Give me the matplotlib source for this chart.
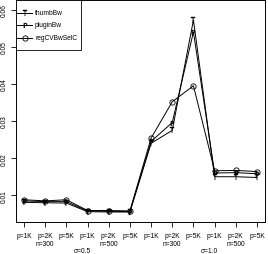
import numpy as np
import matplotlib
matplotlib.use("Agg")
import matplotlib.pyplot as plt
import matplotlib.transforms as mtransforms
from matplotlib.patches import Rectangle

plt.rcParams['font.family'] = ['Liberation Sans', 'DejaVu Sans']

# datos
x = np.arange(1, 13)
tick_labels = ["p=1K", "p=2K", "p=5K"] * 4
n_labels = ["n=300", "n=500", "n=300", "n=500"]
n_pos = [2, 5, 8, 11]
sigma_labels = ["σ=0.5", "σ=1.0"]
sigma_pos = [3.75, 9.75]

thumbBw = [0.0081, 0.0080, 0.0079, 0.0056, 0.0055, 0.0055,
           0.0240, 0.0275, 0.0572, 0.0150, 0.0150, 0.0148]
pluginBw = [0.0085, 0.0083, 0.0083, 0.0058, 0.0057, 0.0056,
            0.0245, 0.0296, 0.0540, 0.0160, 0.0161, 0.0158]
regCVBwSelC = [0.0088, 0.0085, 0.0088, 0.0059, 0.0059, 0.0058,
               0.0254, 0.0352, 0.0395, 0.0166, 0.0167, 0.0164]

series = [("thumbBw", thumbBw, dict(marker=r'$\mathsf{T}$', ms=4.0, mew=0.3)),
          ("pluginBw", pluginBw, dict(marker=r'$\mathsf{P}$', ms=3.5, mew=0.3)),
          ("regCVBwSelC", regCVBwSelC, dict(marker='o', ms=3.8, mfc='none', mew=0.6))]

fs = 4.8
W, H = 268, 255
fig = plt.figure(figsize=(2.68, 2.55), dpi=100)
# caja del grafico en pixeles: x 16..265, y 1..223
ax = fig.add_axes([16 / W, 1 - 223 / H, 249 / W, 222 / H])

for name, vals, st in series:
    ax.plot(x, vals, color='black', lw=0.7, **st)

ax.set_xlim(0.62, 12.38)
ax.set_ylim(0.00281, 0.0626)
ax.set_xticks(x)
ax.set_xticklabels(tick_labels, fontsize=fs)
ax.set_yticks([0.01, 0.02, 0.03, 0.04, 0.05, 0.06])
ax.set_yticklabels(["0.01", "0.02", "0.03", "0.04", "0.05", "0.06"], fontsize=fs,
                   rotation=90, va='center')
ax.tick_params(axis='x', length=3.5, width=0.6, pad=3.5)
ax.tick_params(axis='y', length=3.5, width=0.6, pad=2.2)
for s in ax.spines.values():
    s.set_linewidth(0.7)

trans = mtransforms.blended_transform_factory(ax.transData, fig.transFigure)
for p, t in zip(n_pos, n_labels):
    fig.text(p, 1 - 245 / H, t, transform=trans, fontsize=fs, ha='center', va='center')
for p, t in zip(sigma_pos, sigma_labels):
    fig.text(p, 1 - 251.5 / H, t, transform=trans, fontsize=fs, ha='center', va='center')

# leyenda dibujada a mano (estilo R)
def fx(px):
    return (px - 16) / 249

def fy(py):
    return (223 - py) / 222

ax.add_patch(Rectangle((fx(16), fy(51)), fx(81) - fx(16), fy(1) - fy(51),
                       transform=ax.transAxes, facecolor='white', edgecolor='black',
                       lw=0.6, zorder=5))
for (name, vals, st), py in zip(series, [13.7, 25.7, 38.7]):
    ax.plot([fx(17), fx(32)], [fy(py), fy(py)], transform=ax.transAxes, color='black',
            lw=0.7, zorder=6, clip_on=False)
    ax.plot([fx(24.5)], [fy(py)], transform=ax.transAxes, color='black', zorder=6,
            clip_on=False, **st)
    ax.text(fx(35), fy(py), name, transform=ax.transAxes, fontsize=fs, va='center',
            ha='left', zorder=6)

plt.savefig("out.png", dpi=100)
